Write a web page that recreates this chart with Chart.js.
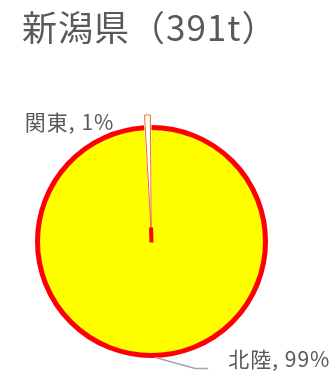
<!DOCTYPE html>
<html>
<head>
<meta charset="utf-8">
<script src="https://cdn.jsdelivr.net/npm/chart.js@4/dist/chart.umd.min.js"></script>
<style>
  html, body { margin: 0; padding: 0; background: #fff; }
  #wrap { width: 336px; height: 371px; }
</style>
</head>
<body>
<div id="wrap"><canvas id="c" width="336" height="371"></canvas></div>
<script>
// 新潟県の出荷先内訳（トン）
const titleText = '新潟県（391t）';
const regions = ['北陸', '関東'];
const tonnes = [387, 4];
const fills = ['#FFFF00', '#FFFFFF'];
const edgeColors = ['#FF0000', '#F26B1D'];
const explode = [0, 26];

const FONT = '"Noto Sans CJK JP", "Noto Sans", sans-serif';
const TEXT_COLOR = '#595959';

const total = tonnes.reduce((a, b) => a + b, 0);

// Outline of the large slice: thick rim along its outer arc only
const rim = {
  id: 'rim',
  afterDatasetsDraw(chart) {
    const ctx = chart.ctx;
    const arc = chart.getDatasetMeta(0).data[0];
    ctx.save();
    ctx.strokeStyle = edgeColors[0];
    ctx.lineWidth = 5;
    ctx.lineCap = 'butt';
    ctx.beginPath();
    ctx.arc(arc.x, arc.y, arc.outerRadius, arc.startAngle, arc.endAngle);
    ctx.stroke();
    // small notch mark where the slice edges meet at the centre
    const a = arc.endAngle;
    ctx.lineWidth = 4;
    ctx.beginPath();
    ctx.moveTo(arc.x, arc.y + 1);
    ctx.lineTo(arc.x + Math.cos(a + 0.03) * 14, arc.y + Math.sin(a + 0.03) * 14);
    ctx.stroke();
    ctx.restore();
  }
};

// Title and slice labels (name, percent) with a leader line for the large slice
const annotate = {
  id: 'annotate',
  afterDraw(chart) {
    const ctx = chart.ctx;
    const meta = chart.getDatasetMeta(0);
    ctx.save();
    ctx.fillStyle = TEXT_COLOR;
    ctx.font = '35px ' + FONT;
    ctx.letterSpacing = '1px';
    ctx.textAlign = 'left';
    ctx.textBaseline = 'alphabetic';
    ctx.fillText(titleText, 22, 41);

    ctx.font = '21px ' + FONT;
    ctx.letterSpacing = '1px';
    ctx.textBaseline = 'middle';
    meta.data.forEach((arc, i) => {
      const pct = Math.round(tonnes[i] / total * 100);
      const label = regions[i] + ', ' + pct + '%';
      const mid = (arc.startAngle + arc.endAngle) / 2;
      const r = arc.outerRadius + 2;
      const px = arc.x + Math.cos(mid) * r;
      const py = arc.y + Math.sin(mid) * r;
      if (i === 0) {
        // leader line from the slice edge to the label
        ctx.strokeStyle = '#A6A6A6';
        ctx.lineWidth = 1.5;
        ctx.beginPath();
        ctx.moveTo(px, py);
        ctx.lineTo(px + 40, py + 11);
        ctx.lineTo(px + 53, py + 11);
        ctx.stroke();
        ctx.textAlign = 'left';
        ctx.fillText(label, px + 73, py + 2);
      } else {
        const ox = Math.cos(mid) * explode[i] * 0.48;
        const oy = Math.sin(mid) * explode[i] * 0.48;
        ctx.textAlign = 'right';
        ctx.fillText(label, px + ox - 33, py + oy + 9);
      }
    });
    ctx.restore();
  }
};

new Chart(document.getElementById('c'), {
  type: 'pie',
  data: {
    labels: regions,
    datasets: [{
      data: tonnes,
      backgroundColor: fills,
      borderColor: edgeColors,
      borderWidth: [0, 1],
      offset: explode
    }]
  },
  options: {
    responsive: false,
    animation: false,
    events: [],
    radius: 114,
    layout: { padding: { left: 0, right: 33, top: 112, bottom: 0 } },
    plugins: {
      legend: { display: false },
      title: { display: false },
      tooltip: { enabled: false }
    }
  },
  plugins: [rim, annotate]
});
</script>
</body>
</html>
